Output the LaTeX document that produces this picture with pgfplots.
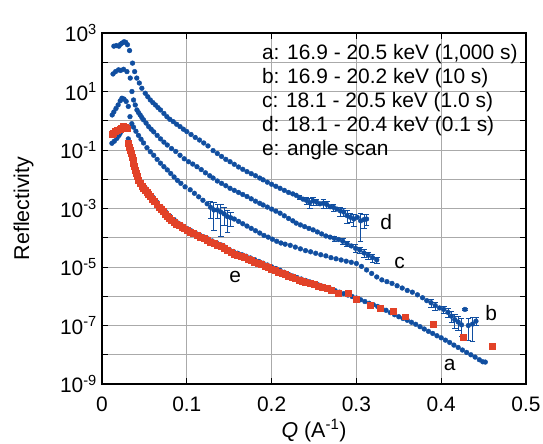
\documentclass[border=0pt]{standalone}
\usepackage{fontspec}
\setmainfont{Liberation Sans}
\usepackage{pgfplots}
\pgfplotsset{compat=1.18}
\definecolor{bl}{RGB}{16,78,160}
\definecolor{rd}{RGB}{226,66,40}
\definecolor{gr}{RGB}{170,170,170}
\begin{document}
\begin{tikzpicture}
\begin{axis}[
 scale only axis, width=424bp, height=351bp,
 xmin=0, xmax=0.5, ymode=log, ymin=1e-9, ymax=1e3,
 xtick={0,0.1,0.2,0.3,0.4,0.5}, xticklabels={0,0.1,0.2,0.3,0.4,0.5},
 ytick={1e-9,1e-8,1e-7,1e-6,1e-5,1e-4,1e-3,1e-2,1e-1,1,1e1,1e2,1e3},
 yticklabels={10\textsuperscript{-9},{},10\textsuperscript{-7},{},10\textsuperscript{-5},{},10\textsuperscript{-3},{},10\textsuperscript{-1},{},10\textsuperscript{1},{},10\textsuperscript{3}},
 yminorticks=false,
 tick align=inside, major tick length=6bp,
 major tick style={draw=black, line width=1pt},
 grid=major,
 major grid style={draw=gr, line width=0.7pt, solid},
 axis line style={line width=1.5pt},
 tick label style={font=\fontsize{21}{24}\selectfont},
 xticklabel style={inner sep=0pt, anchor=north, yshift=-13bp},
 yticklabel style={inner sep=0pt, anchor=east, xshift=-5bp},
 xlabel={\textit{Q} (A\textsuperscript{-1})},
 ylabel={Reflectivity},
 label style={font=\fontsize{21.5}{24}\selectfont},
 xlabel style={at={(axis description cs:0.5,-0.151)}, anchor=base, inner sep=0pt},
 ylabel style={at={(axis description cs:-0.161,0.5)}, anchor=south, inner sep=0pt},
]
% a : 16.9-20.5 keV (1,000 s)
\addplot[only marks, mark=*, mark size=2.4pt, color=bl, forget plot] table {
Q R
0.0117 0.170
0.0145 0.200
0.0176 0.251
0.020 0.316
0.0215 0.380
0.0235 0.479
0.0254 0.562
0.027 0.603
0.029 0.550
0.031 0.240
0.033 0.126
0.035 7.24e-2
0.037 4.37e-2
0.039 2.63e-2
0.041 1.58e-2
0.044 1.00e-2
0.047 6.92e-3
0.051 5.01e-3
0.055 3.63e-3
0.060 2.40e-3
0.065 1.62e-3
0.070 1.10e-3
0.075 7.76e-4
0.080 5.50e-4
0.085 4.17e-4
0.090 3.16e-4
0.095 2.51e-4
0.100 2.09e-4
0.105 1.74e-4
0.110 1.48e-4
0.115 1.26e-4
0.120 1.07e-4
0.125 9.12e-5
0.130 7.76e-5
0.135 6.76e-5
0.140 5.75e-5
0.145 4.79e-5
0.150 3.98e-5
0.155 3.39e-5
0.160 2.95e-5
0.165 2.63e-5
0.170 2.34e-5
0.175 2.04e-5
0.180 1.78e-5
0.185 1.55e-5
0.190 1.35e-5
0.195 1.17e-5
0.200 1.02e-5
0.205 8.91e-6
0.210 7.76e-6
0.215 6.61e-6
0.220 5.62e-6
0.225 4.90e-6
0.230 4.37e-6
0.235 3.89e-6
0.240 3.47e-6
0.245 3.09e-6
0.250 2.75e-6
0.255 2.45e-6
0.260 2.19e-6
0.265 1.95e-6
0.270 1.74e-6
0.275 1.55e-6
0.280 1.38e-6
0.285 1.23e-6
0.290 1.10e-6
0.295 9.77e-7
0.300 8.71e-7
0.305 7.59e-7
0.310 6.61e-7
0.315 5.75e-7
0.320 5.13e-7
0.325 4.47e-7
0.330 3.89e-7
0.335 3.31e-7
0.340 2.75e-7
0.345 2.34e-7
0.350 2.00e-7
0.355 1.74e-7
0.360 1.51e-7
0.365 1.29e-7
0.370 1.10e-7
0.375 9.12e-8
0.380 7.59e-8
0.385 6.31e-8
0.390 5.37e-8
0.395 4.47e-8
0.400 3.80e-8
0.405 3.16e-8
0.410 2.63e-8
0.415 2.14e-8
0.420 1.78e-8
0.425 1.45e-8
0.430 1.20e-8
0.435 1.00e-8
0.440 8.32e-9
0.445 6.76e-9
0.449 5.75e-9
0.452 5.62e-9
};
% e : angle scan
\addplot[only marks, mark=square*, mark size=3pt, color=rd, forget plot] table {
Q R
0.012 0.347
0.0136 0.380
0.016 0.427
0.0185 0.468
0.021 0.525
0.023 0.575
0.0254 0.631
0.0275 0.603
0.0294 0.537
0.0313 0.170
0.0323 0.129
0.0333 0.100
0.0343 7.59e-2
0.0353 5.89e-2
0.0363 4.57e-2
0.0372 3.55e-2
0.0382 2.69e-2
0.0392 2.09e-2
0.0402 1.58e-2
0.0412 1.23e-2
0.043 9.33e-3
0.045 7.24e-3
0.047 5.89e-3
0.049 5.01e-3
0.051 4.27e-3
0.053 3.63e-3
0.055 3.09e-3
0.057 2.63e-3
0.0595 2.14e-3
0.062 1.74e-3
0.0645 1.41e-3
0.067 1.15e-3
0.0695 9.55e-4
0.072 7.94e-4
0.0745 6.61e-4
0.077 5.50e-4
0.0795 4.68e-4
0.082 4.07e-4
0.085 3.47e-4
0.088 3.02e-4
0.091 2.63e-4
0.094 2.29e-4
0.097 2.04e-4
0.100 1.82e-4
0.104 1.58e-4
0.108 1.41e-4
0.112 1.23e-4
0.116 1.07e-4
0.120 9.33e-5
0.124 8.13e-5
0.128 7.08e-5
0.132 6.31e-5
0.136 5.62e-5
0.140 5.01e-5
0.144 4.27e-5
0.148 3.63e-5
0.152 3.16e-5
0.156 2.82e-5
0.160 2.51e-5
0.164 2.29e-5
0.168 2.09e-5
0.172 1.91e-5
0.176 1.70e-5
0.180 1.51e-5
0.184 1.35e-5
0.188 1.20e-5
0.192 1.07e-5
0.196 9.55e-6
0.200 8.51e-6
0.204 7.59e-6
0.208 6.76e-6
0.212 6.17e-6
0.216 5.50e-6
0.220 4.90e-6
0.224 4.37e-6
0.228 3.98e-6
0.232 3.63e-6
0.236 3.31e-6
0.240 3.02e-6
0.245 2.75e-6
0.250 2.51e-6
0.255 2.29e-6
0.260 2.09e-6
0.265 1.86e-6
0.270 1.66e-6
0.278 1.26e-6
0.290 1.32e-6
0.300 8.13e-7
0.316 5.01e-7
0.328 3.89e-7
0.343 3.16e-7
0.358 2.00e-7
0.390 1.15e-7
0.426 3.98e-8
0.460 2.00e-8
};
% b : 16.9-20.2 keV (10 s)
\addplot[only marks, mark=*, mark size=2.4pt, color=bl, forget plot] table {
Q R
0.012 1.58
0.014 2.00
0.0165 2.63
0.019 3.47
0.0215 4.79
0.0235 5.89
0.026 5.50
0.0285 4.57
0.031 3.09
0.033 1.38
0.0352 0.794
0.0372 0.603
0.040 0.437
0.043 0.316
0.046 0.234
0.049 0.174
0.053 0.120
0.057 8.71e-2
0.061 6.61e-2
0.065 4.79e-2
0.069 3.55e-2
0.073 2.69e-2
0.077 2.09e-2
0.081 1.58e-2
0.085 1.20e-2
0.089 9.12e-3
0.093 7.24e-3
0.098 5.50e-3
0.104 4.37e-3
0.109 3.31e-3
0.114 2.51e-3
0.119 1.91e-3
0.124 1.45e-3
0.156 4.37e-4
0.161 3.63e-4
0.166 3.02e-4
0.171 2.51e-4
0.176 2.09e-4
0.181 1.74e-4
0.186 1.45e-4
0.191 1.20e-4
0.196 1.05e-4
0.201 8.91e-5
0.206 7.59e-5
0.211 6.61e-5
0.216 6.03e-5
0.222 5.50e-5
0.228 4.79e-5
0.234 4.17e-5
0.240 3.63e-5
0.246 3.31e-5
0.252 2.95e-5
0.258 2.63e-5
0.264 2.40e-5
0.270 2.09e-5
0.276 1.91e-5
0.282 1.74e-5
0.288 1.58e-5
0.294 1.45e-5
0.300 1.32e-5
0.306 1.05e-5
0.312 7.94e-6
0.318 6.03e-6
0.324 4.57e-6
0.330 3.63e-6
0.336 3.16e-6
0.342 2.75e-6
0.348 2.29e-6
0.354 1.91e-6
0.360 1.58e-6
0.366 1.38e-6
0.372 1.12e-6
0.378 8.91e-7
0.383 7.08e-7
0.398 3.98e-7
};
\addplot[only marks, mark=*, mark size=2.4pt, color=bl, forget plot,
 error bars/.cd, y dir=both, y explicit relative,
 error bar style={line width=0.9pt, bl},
 error mark options={line width=0.9pt, mark size=2.8pt, bl, rotate=90}] table[x=Q, y=R, y error=E] {
Q R E
0.128 1.10e-3 0.6
0.132 8.91e-4 0.8
0.136 8.91e-4 0.5
0.140 7.59e-4 0.85
0.144 6.61e-4 0.6
0.148 5.25e-4 0.7
0.152 4.79e-4 0.5
0.388 6.03e-7 0.3
0.393 4.79e-7 0.3
0.403 3.55e-7 0.3
0.408 2.82e-7 0.35
0.412 2.09e-7 0.4
0.416 1.58e-7 0.5
0.420 1.32e-7 0.5
0.424 1.05e-7 0.6
0.428 3.55e-7 0.1
0.432 1.00e-7 0.7
0.437 1.12e-7 0.75
0.441 1.41e-7 0.3
};
% c : 18.1-20.5 keV (1.0 s)
\addplot[only marks, mark=*, mark size=2.4pt, color=bl, forget plot] table {
Q R
0.013 3.98e1
0.016 4.79e1
0.0195 5.50e1
0.022 5.25e1
0.0254 5.75e1
0.0294 4.79e1
0.0333 2.88e1
0.0353 1.00e1
0.0372 5.13
0.0392 3.47
0.0412 2.34
0.043 1.91
0.045 1.58
0.047 1.29
0.049 1.07
0.052 0.832
0.055 0.631
0.058 0.513
0.061 0.417
0.065 0.316
0.069 0.240
0.073 0.186
0.077 0.148
0.082 0.112
0.087 8.91e-2
0.092 6.61e-2
0.097 5.01e-2
0.102 3.98e-2
0.107 3.31e-2
0.112 2.69e-2
0.117 2.14e-2
0.122 1.66e-2
0.127 1.32e-2
0.131 1.10e-2
0.136 8.71e-3
0.141 7.24e-3
0.146 6.03e-3
0.151 4.90e-3
0.156 4.17e-3
0.161 3.55e-3
0.166 3.02e-3
0.171 2.57e-3
0.176 2.14e-3
0.181 1.78e-3
0.186 1.51e-3
0.190 1.32e-3
0.195 1.12e-3
0.200 9.55e-4
0.205 8.13e-4
0.210 6.92e-4
0.215 5.62e-4
0.220 4.57e-4
0.225 3.80e-4
0.229 3.16e-4
0.234 2.75e-4
0.239 2.40e-4
0.244 2.09e-4
0.249 1.86e-4
0.254 1.58e-4
0.259 1.35e-4
0.264 1.15e-4
0.269 1.05e-4
0.279 8.71e-5
0.294 5.25e-5
};
\addplot[only marks, mark=*, mark size=2.4pt, color=bl, forget plot,
 error bars/.cd, y dir=both, y explicit relative,
 error bar style={line width=0.9pt, bl},
 error mark options={line width=0.9pt, mark size=2.8pt, bl, rotate=90}] table[x=Q, y=R, y error=E] {
Q R E
0.274 9.55e-5 0.2
0.284 7.59e-5 0.25
0.289 6.31e-5 0.2
0.299 4.37e-5 0.3
0.304 3.80e-5 0.25
0.309 3.02e-5 0.3
0.314 2.51e-5 0.25
0.319 2.09e-5 0.3
0.324 1.74e-5 0.25
};
% d : 18.1-20.4 keV (0.1 s)
\addplot[only marks, mark=*, mark size=2.4pt, color=bl, forget plot] table {
Q R
0.014 3.55e2
0.017 3.72e2
0.020 3.55e2
0.022 4.17e2
0.024 4.57e2
0.026 5.01e2
0.028 4.79e2
0.030 3.98e2
0.0325 2.51e2
0.036 9.33e1
0.0385 4.79e1
0.041 2.88e1
0.044 1.95e1
0.047 1.29e1
0.051 8.71
0.054 6.61
0.057 5.13
0.060 4.17
0.063 3.47
0.066 2.82
0.069 2.34
0.073 1.78
0.0765 1.38
0.080 1.12
0.084 0.933
0.088 0.759
0.092 0.631
0.096 0.513
0.100 0.427
0.105 0.339
0.110 0.269
0.115 0.219
0.120 0.174
0.125 0.138
0.131 9.55e-2
0.136 7.59e-2
0.141 6.03e-2
0.146 4.79e-2
0.151 3.98e-2
0.156 3.24e-2
0.161 2.63e-2
0.166 2.19e-2
0.171 1.82e-2
0.176 1.55e-2
0.181 1.32e-2
0.186 1.10e-2
0.190 9.55e-3
0.195 7.94e-3
0.200 6.76e-3
0.205 5.75e-3
0.210 4.90e-3
0.215 4.17e-3
0.220 3.55e-3
0.225 3.16e-3
0.229 2.82e-3
0.237 2.09e-3
0.257 1.45e-3
0.269 1.15e-3
0.277 9.55e-4
0.301 5.01e-4
};
\addplot[only marks, mark=*, mark size=2.4pt, color=bl, forget plot,
 error bars/.cd, y dir=both, y explicit relative,
 error bar style={line width=0.9pt, bl},
 error mark options={line width=0.9pt, mark size=2.8pt, bl, rotate=90}] table[x=Q, y=R, y error=E] {
Q R E
0.233 2.40e-3 0.15
0.241 1.91e-3 0.3
0.245 1.58e-3 0.35
0.249 1.82e-3 0.3
0.253 1.66e-3 0.25
0.261 1.51e-3 0.35
0.265 1.38e-3 0.3
0.273 1.10e-3 0.3
0.281 8.32e-4 0.35
0.285 7.59e-4 0.3
0.289 5.75e-4 0.45
0.293 5.01e-4 0.35
0.297 4.37e-4 0.45
0.305 3.80e-4 0.8
0.309 4.17e-4 0.5
0.312 4.37e-4 0.4
};
% curve labels
\node[font=\fontsize{21}{24}\selectfont] at (axis cs:0.335,3.55e-4) {d};
\node[font=\fontsize{21}{24}\selectfont] at (axis cs:0.351,1.41e-5) {c};
\node[font=\fontsize{21}{24}\selectfont] at (axis cs:0.459,2.63e-7) {b};
\node[font=\fontsize{21}{24}\selectfont] at (axis cs:0.410,4.47e-9) {a};
\node[font=\fontsize{21}{24}\selectfont] at (axis cs:0.157,4.68e-6) {e};
% legend text
\node[anchor=base west, inner sep=0pt, font=\fontsize{21}{24}\selectfont] at (rel axis cs:0.377,0.925) {a: 16.9 - 20.5 keV (1,000 s)};
\node[anchor=base west, inner sep=0pt, font=\fontsize{21}{24}\selectfont] at (rel axis cs:0.377,0.8566) {b: 16.9 - 20.2 keV (10 s)};
\node[anchor=base west, inner sep=0pt, font=\fontsize{21}{24}\selectfont] at (rel axis cs:0.377,0.788) {c: 18.1 - 20.5 keV (1.0 s)};
\node[anchor=base west, inner sep=0pt, font=\fontsize{21}{24}\selectfont] at (rel axis cs:0.377,0.720) {d: 18.1 - 20.4 keV (0.1 s)};
\node[anchor=base west, inner sep=0pt, font=\fontsize{21}{24}\selectfont] at (rel axis cs:0.377,0.651) {e: angle scan};
\end{axis}
\path (current axis.south west) ++(-102bp,-60bp) rectangle ++(543bp,444bp);
\end{tikzpicture}
\end{document}
